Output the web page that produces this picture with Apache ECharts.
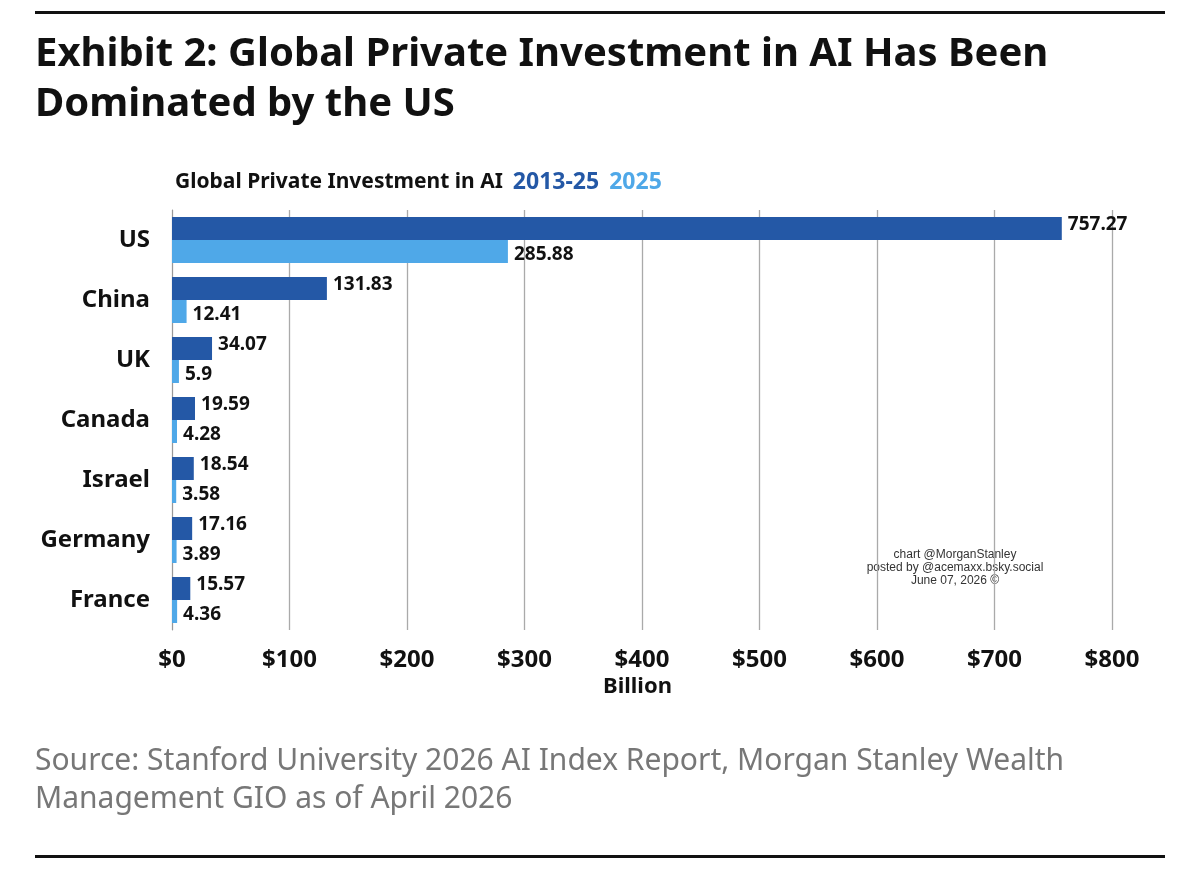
<!DOCTYPE html>
<html><head><meta charset="utf-8">
<script src="https://cdn.jsdelivr.net/npm/echarts@6/dist/echarts.min.js"></script>
<style>html,body{margin:0;background:#fff}#c{width:1200px;height:869px}</style>
</head><body><div id="c"></div>
<script>
var countries = ['US', 'China', 'UK', 'Canada', 'Israel', 'Germany', 'France'];
var total1325 = [757.27, 131.83, 34.07, 19.59, 18.54, 17.16, 15.57];
var year2025 = [285.88, 12.41, 5.9, 4.28, 3.58, 3.89, 4.36];
var xTicks = [0, 100, 200, 300, 400, 500, 600, 700, 800];

var font = '"Noto Sans", "Open Sans", sans-serif';
var chart = echarts.init(document.getElementById('c'));
var lbl = {show: true, position: 'right', distance: 6, color: '#111', fontSize: 19, fontWeight: 'bold', fontFamily: font};
chart.setOption({
  animation: false,
  graphic: [
    {type: 'rect', shape: {x: 35, y: 11, width: 1130, height: 3}, style: {fill: '#111'}},
    {type: 'rect', shape: {x: 35, y: 855, width: 1130, height: 3}, style: {fill: '#111'}},
    {type: 'text', left: 35, top: 30, style: {text: 'Exhibit 2: Global Private Investment in AI Has Been\nDominated by the US', font: 'bold 40px ' + font, fill: '#111', lineHeight: 50}},
    {type: 'text', left: 175, top: 171, style: {rich: {
      a: {fontSize: 21, fontWeight: 'bold', fill: '#111', fontFamily: font},
      b: {fontSize: 23, fontWeight: 'bold', fill: '#2458a6', fontFamily: font},
      c: {fontSize: 23, fontWeight: 'bold', fill: '#4fa8e8', fontFamily: font}
    }, text: '{a|Global Private Investment in AI}   {b|2013-25}   {c|2025}'}},
    {type: 'text', left: 603, top: 676, style: {text: 'Billion', font: 'bold 22px ' + font, fill: '#111'}},
    {type: 'text', x: 955, y: 548, style: {text: 'chart @MorganStanley\nposted by @acemaxx.bsky.social\nJune 07, 2026 ©', font: '12px "Liberation Sans", sans-serif', fill: '#333', align: 'center', lineHeight: 13}},
    {type: 'text', left: 35, top: 742, style: {text: 'Source: Stanford University 2026 AI Index Report, Morgan Stanley Wealth\nManagement GIO as of April 2026', font: '30px ' + font, fill: '#777', lineHeight: 38}}
  ],
  grid: {left: 172, right: 88, top: 210, bottom: 239},
  xAxis: {
    type: 'value', min: 0, max: 800, interval: 100,
    axisLabel: {formatter: function (v) { return xTicks.indexOf(v) >= 0 ? '$' + v : ''; }, color: '#111', fontSize: 24, fontWeight: 'bold', fontFamily: font, margin: 18},
    splitLine: {lineStyle: {color: '#aaa', width: 1.3}},
    axisLine: {show: false}, axisTick: {show: false}
  },
  yAxis: {
    type: 'category', data: countries, inverse: true,
    axisLine: {show: true, lineStyle: {color: '#999'}}, axisTick: {show: false},
    axisLabel: {color: '#111', fontSize: 24, fontWeight: 'bold', fontFamily: font, margin: 22}
  },
  series: [
    {name: '2013-25', type: 'bar', data: total1325, barWidth: 23, barGap: '0%', itemStyle: {color: '#2458a6'}, label: Object.assign({}, lbl, {offset: [0, -4]})},
    {name: '2025', type: 'bar', data: year2025, barWidth: 23, itemStyle: {color: '#4fa8e8'}, label: Object.assign({}, lbl, {offset: [0, 3]})}
  ]
});
</script></body></html>
